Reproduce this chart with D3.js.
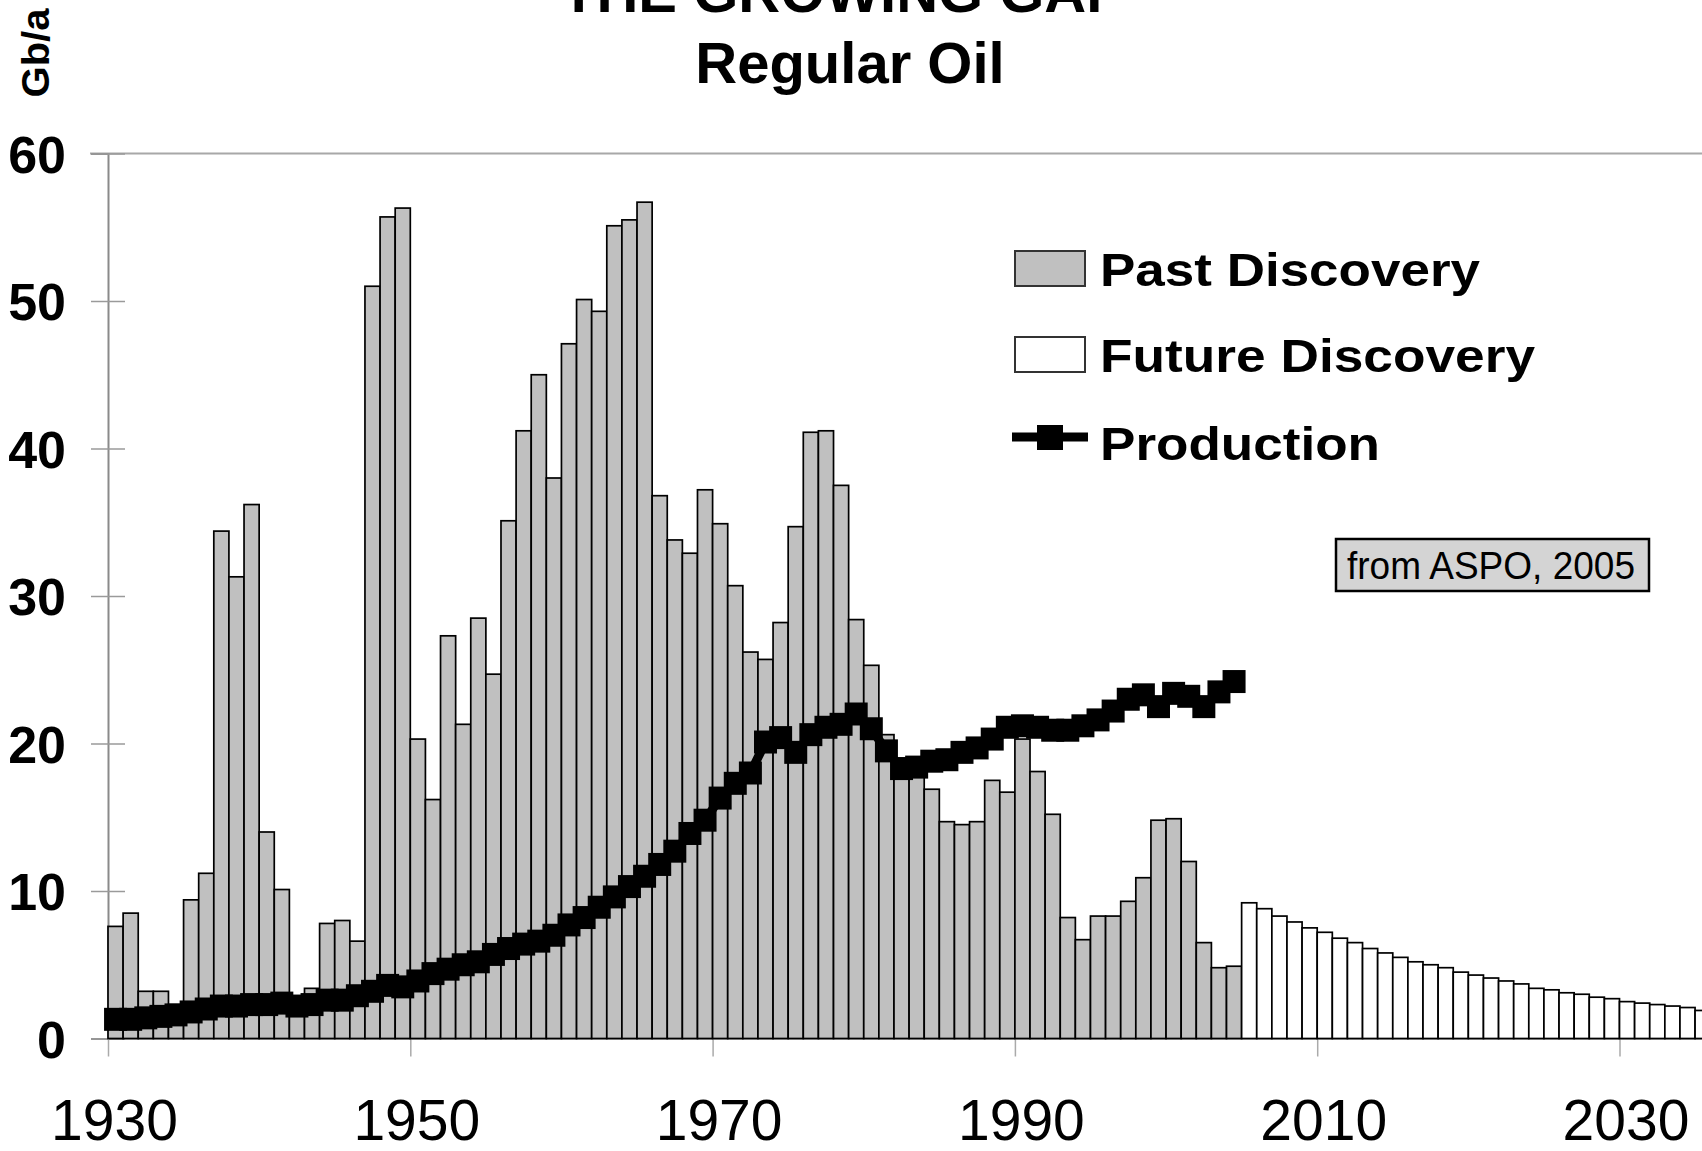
<!DOCTYPE html>
<html>
<head>
<meta charset="utf-8">
<script src="https://cdn.jsdelivr.net/npm/d3@7"></script>
<style>
  html, body { margin: 0; padding: 0; background: #fff; }
  svg { display: block; font-family: "Liberation Sans", Arial, sans-serif; }
</style>
</head>
<body>
<svg id="chart" width="1702" height="1151"></svg>
<script>
// past discovery, Gb per year, 1930-2004
var pastStart = 1930;
var pastDiscovery = [
  7.6, 8.5, 3.2, 3.2, 2.3, 9.4, 11.2, 34.4, 31.3, 36.2,
  14.0, 10.1, 2.0, 3.4, 7.8, 8.0, 6.6, 51.0, 55.7, 56.3,
  20.3, 16.2, 27.3, 21.3, 28.5, 24.7, 35.1, 41.2, 45.0, 38.0,
  47.1, 50.1, 49.3, 55.1, 55.5, 56.7, 36.8, 33.8, 32.9, 37.2,
  34.9, 30.7, 26.2, 25.7, 28.2, 34.7, 41.1, 41.2, 37.5, 28.4,
  25.3, 20.6, 19.0, 18.0, 16.9, 14.7, 14.5, 14.7, 17.5, 16.7,
  20.3, 18.1, 15.2, 8.2, 6.7, 8.3, 8.3, 9.3, 10.9, 14.8,
  14.9, 12.0, 6.5, 4.8, 4.9
];

// future discovery, 2005-2035
var futureStart = 2005;
var futureDiscovery = [
  9.2, 8.8, 8.3, 7.9, 7.5, 7.2, 6.8, 6.5, 6.1, 5.8,
  5.5, 5.2, 5.0, 4.8, 4.5, 4.3, 4.1, 3.9, 3.7, 3.4,
  3.3, 3.1, 3.0, 2.8, 2.7, 2.5, 2.4, 2.3, 2.2, 2.1, 1.9
];

// production, 1930-2004
var prodStart = 1930;
var production = [
  1.3, 1.3, 1.4, 1.5, 1.6, 1.8, 2.0, 2.2, 2.2, 2.3,
  2.3, 2.4, 2.2, 2.3, 2.6, 2.6, 2.9, 3.2, 3.6, 3.5,
  3.9, 4.4, 4.7, 5.0, 5.2, 5.7, 6.1, 6.4, 6.6, 7.0,
  7.7, 8.2, 8.9, 9.6, 10.3, 11.0, 11.8, 12.7, 13.9, 14.8,
  16.3, 17.3, 18.0, 20.1, 20.4, 19.4, 20.6, 21.1, 21.3, 22.0,
  21.0, 19.5, 18.3, 18.4, 18.8, 18.9, 19.4, 19.7, 20.3, 21.1,
  21.2, 21.1, 20.9, 20.9, 21.2, 21.6, 22.2, 23.0, 23.3, 22.5,
  23.4, 23.2, 22.5, 23.5, 24.2
];

var yTicks = [0, 10, 20, 30, 40, 50, 60];
var xTicks = [1930, 1950, 1970, 1990, 2010, 2030];
var legendLabels = ["Past Discovery", "Future Discovery", "Production"];

var svg = d3.select("#chart"),
  width = +svg.attr("width"),
  height = +svg.attr("height");

var x = d3.scaleLinear().domain([1930, 2030]).range([108, 1619.5]);
var y = d3.scaleLinear().domain([0, 60]).range([1038.5, 153.5]);

var past = pastDiscovery.map(function (v, i) { return { year: pastStart + i, value: v }; });
var future = futureDiscovery.map(function (v, i) { return { year: futureStart + i, value: v }; });
var prod = production.map(function (v, i) { return { year: prodStart + i, value: v }; });

// top frame line
svg.append("line")
  .attr("x1", 90).attr("x2", width)
  .attr("y1", y(60)).attr("y2", y(60))
  .attr("stroke", "#a8a8a8").attr("stroke-width", 2);

// y axis
var yAxis = svg.append("g")
  .attr("transform", "translate(" + x(1930) + ",0)")
  .call(d3.axisLeft(y).tickValues(yTicks).tickSize(17).tickFormat(d3.format("d")));
yAxis.select(".domain").attr("stroke", "#8a8a8a").attr("stroke-width", 2);
yAxis.selectAll(".tick line").attr("stroke", "#9a9a9a").attr("stroke-width", 1.5).attr("x1", 17);
yAxis.selectAll(".tick text")
  .attr("x", -42).attr("dy", "0.36em")
  .style("font-size", "52px").style("font-weight", "bold")
  .style("font-family", "'Liberation Sans', Arial, sans-serif")
  .attr("fill", "#000");

// x axis
var xAxis = svg.append("g")
  .attr("transform", "translate(0," + y(0) + ")")
  .call(d3.axisBottom(x).tickValues(xTicks).tickSize(18).tickFormat(d3.format("d")));
xAxis.select(".domain").attr("stroke", "#666").attr("stroke-width", 2)
  .attr("d", "M" + x(1930) + ",0H" + width);
xAxis.selectAll(".tick line").attr("stroke", "#aaa").attr("stroke-width", 1.5);
xAxis.selectAll(".tick text")
  .attr("x", 6).attr("y", 101).attr("dy", 0)
  .style("font-size", "57px")
  .style("font-family", "'Liberation Sans', Arial, sans-serif")
  .attr("fill", "#000");

// bars
function drawBars(data, fill) {
  svg.append("g")
    .selectAll("rect")
    .data(data)
    .enter()
    .append("rect")
    .attr("x", function (d) { return x(d.year); })
    .attr("y", function (d) { return y(d.value); })
    .attr("width", function (d) { return x(d.year + 1) - x(d.year); })
    .attr("height", function (d) { return y(0) - y(d.value); })
    .attr("fill", fill)
    .attr("stroke", "#000")
    .attr("stroke-width", 1.7);
}
drawBars(past, "#c0c0c0");
drawBars(future, "#ffffff");

// production line + square markers
var line = d3.line()
  .x(function (d) { return x(d.year + 0.5); })
  .y(function (d) { return y(d.value); });

svg.append("path")
  .datum(prod)
  .attr("d", line)
  .attr("fill", "none")
  .attr("stroke", "#000")
  .attr("stroke-width", 9);

var ms = 23;
svg.append("g")
  .selectAll("rect")
  .data(prod)
  .enter()
  .append("rect")
  .attr("x", function (d) { return x(d.year + 0.5) - ms / 2; })
  .attr("y", function (d) { return y(d.value) - ms / 2; })
  .attr("width", ms)
  .attr("height", ms)
  .attr("fill", "#000");

// legend
var legend = svg.append("g");
legend.append("rect")
  .attr("x", 1015).attr("y", 251).attr("width", 70).attr("height", 35)
  .attr("fill", "#c0c0c0").attr("stroke", "#333").attr("stroke-width", 2);
legend.append("rect")
  .attr("x", 1015).attr("y", 337).attr("width", 70).attr("height", 35)
  .attr("fill", "#fff").attr("stroke", "#333").attr("stroke-width", 2);
legend.append("line")
  .attr("x1", 1012).attr("x2", 1088).attr("y1", 437).attr("y2", 437)
  .attr("stroke", "#000").attr("stroke-width", 9);
legend.append("rect")
  .attr("x", 1037).attr("y", 425).attr("width", 26).attr("height", 25)
  .attr("fill", "#000");

var legendLen = [380, 435, 280];
var legendBase = [286, 372, 460];
legend.selectAll("text")
  .data(legendLabels)
  .enter()
  .append("text")
  .attr("x", 1100)
  .attr("y", function (d, i) { return legendBase[i]; })
  .attr("textLength", function (d, i) { return legendLen[i]; })
  .attr("lengthAdjust", "spacingAndGlyphs")
  .style("font-size", "47px")
  .style("font-weight", "bold")
  .text(function (d) { return d; });

// source box
svg.append("rect")
  .attr("x", 1336).attr("y", 539).attr("width", 313).attr("height", 52)
  .attr("fill", "#d4d4d4").attr("stroke", "#000").attr("stroke-width", 2.5);
svg.append("text")
  .attr("x", 1347).attr("y", 579)
  .attr("textLength", 288)
  .attr("lengthAdjust", "spacingAndGlyphs")
  .style("font-size", "38px")
  .text("from ASPO, 2005");

// titles
svg.append("text")
  .attr("x", 843).attr("y", 12)
  .attr("text-anchor", "middle")
  .style("font-size", "58px").style("font-weight", "bold")
  .text("THE GROWING GAP");
svg.append("text")
  .attr("x", 850).attr("y", 83)
  .attr("text-anchor", "middle")
  .style("font-size", "58px").style("font-weight", "bold")
  .text("Regular Oil");

// unit label
svg.append("text")
  .attr("transform", "translate(49,53) rotate(-90)")
  .attr("text-anchor", "middle")
  .attr("textLength", 89)
  .attr("lengthAdjust", "spacingAndGlyphs")
  .style("font-size", "39px").style("font-weight", "bold")
  .text("Gb/a");
</script>
</body>
</html>
